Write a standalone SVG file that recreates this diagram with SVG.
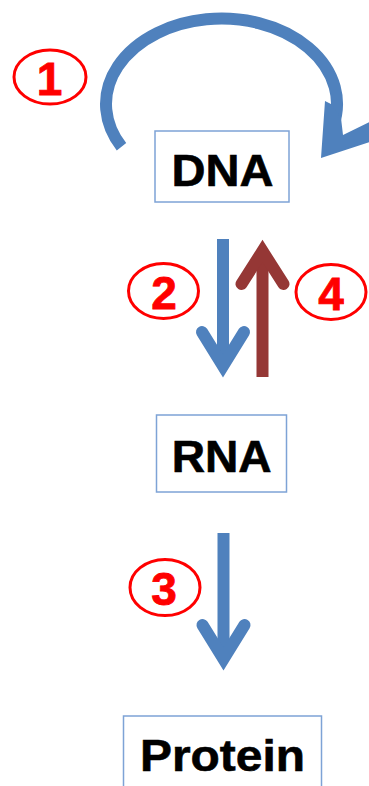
<svg xmlns="http://www.w3.org/2000/svg" width="369" height="786" viewBox="0 0 369 786">
  <style>
    .box { fill: #ffffff; stroke: #7ea3d6; stroke-width: 1.5; }
    .label { font-family: "Liberation Sans", Arial, sans-serif; font-weight: bold; font-size: 45px; fill: #000000; stroke: #000000; stroke-width: 0.6; text-anchor: middle; }
    .badge { fill: none; stroke: #ff0000; stroke-width: 3; }
    .num { font-family: "Liberation Sans", Arial, sans-serif; font-weight: bold; font-size: 46px; fill: #ff0000; stroke: #ff0000; stroke-width: 0.8; text-anchor: middle; }
    .blue { stroke: #4f81bd; }
    .red { stroke: #953735; }
    .shaft { fill: none; stroke-width: 12; stroke-linecap: butt; }
    .head { fill: none; stroke-width: 12; stroke-linecap: round; stroke-linejoin: miter; stroke-miterlimit: 10; }
  </style>
  <rect width="369" height="786" fill="#ffffff"/>

  <!-- connectors -->
  <g id="connectors">
    <!-- replication: loop over the DNA box -->
    <g id="loop">
      <path class="shaft blue" d="M121.5,146.8 A115.5,85.5 0 1 1 333.1,126.1"/>
      <polygon fill="#4f81bd" points="325,101 321,158 382,138 382,116 343,135 341,118 331,104"/>
    </g>
    <!-- transcription: DNA to RNA -->
    <g id="arrow-dna-rna">
      <line class="shaft blue" x1="223" y1="239" x2="223" y2="366"/>
      <polyline class="head blue" points="202,332 223,366 244,332"/>
    </g>
    <!-- reverse transcription: RNA to DNA -->
    <g id="arrow-rna-dna">
      <line class="shaft red" x1="262.5" y1="377" x2="262.5" y2="251"/>
      <polyline class="head red" points="241.5,284 262.5,251 283.5,284"/>
    </g>
    <!-- translation: RNA to Protein -->
    <g id="arrow-rna-protein">
      <line class="shaft blue" x1="223.5" y1="533" x2="223.5" y2="659"/>
      <polyline class="head blue" points="202.5,625 223.5,659 244.5,625"/>
    </g>
  </g>

  <!-- nodes -->
  <g id="node-dna">
    <rect class="box" x="155" y="131" width="134" height="71"/>
    <text class="label" x="222.5" y="185.5" textLength="102" lengthAdjust="spacingAndGlyphs">DNA</text>
  </g>
  <g id="node-rna">
    <rect class="box" x="156.5" y="415" width="130" height="77"/>
    <text class="label" x="221.7" y="472" textLength="100" lengthAdjust="spacingAndGlyphs">RNA</text>
  </g>
  <g id="node-protein">
    <rect class="box" x="123.5" y="716" width="198" height="90"/>
    <text class="label" x="222.5" y="771" textLength="165" lengthAdjust="spacingAndGlyphs">Protein</text>
  </g>

  <!-- step badges -->
  <g id="badge-1">
    <ellipse class="badge" cx="50" cy="77" rx="36" ry="27"/>
    <text class="num" x="49.5" y="94.5">1</text>
  </g>
  <g id="badge-2">
    <ellipse class="badge" cx="163.5" cy="291" rx="35" ry="27.5"/>
    <text class="num" x="164" y="308.5">2</text>
  </g>
  <g id="badge-3">
    <ellipse class="badge" cx="165" cy="587.5" rx="35" ry="28"/>
    <text class="num" x="164" y="605">3</text>
  </g>
  <g id="badge-4">
    <ellipse class="badge" cx="331" cy="292" rx="35" ry="27.5"/>
    <text class="num" x="331" y="309.5">4</text>
  </g>
</svg>
